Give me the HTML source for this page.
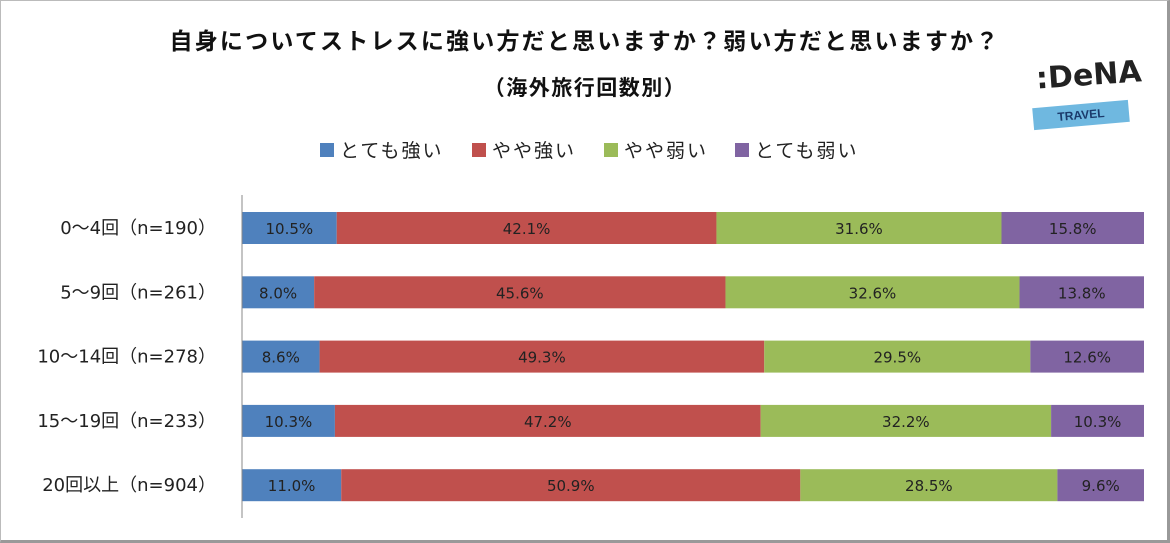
<!DOCTYPE html>
<html><head><meta charset="utf-8"><style>
body{margin:0;width:1170px;height:543px;overflow:hidden;background:#fff;font-family:"Liberation Sans","Noto Sans CJK JP",sans-serif;}
#frame{position:absolute;left:0;top:0;border:1px solid #bbb;border-right:3px solid #999;border-bottom:3px solid #999;box-sizing:border-box;width:1170px;height:543px}
.t{position:absolute;font-weight:bold;color:#111;white-space:nowrap;font-family:"Noto Sans CJK JP",sans-serif}
</style></head><body>
<div id="frame"></div>
<div class="t" style="left:0;width:1170px;text-align:center;top:22px;font-size:23px;letter-spacing:2.2px">自身についてストレスに強い方だと思いますか？弱い方だと思いますか？</div>
<div class="t" style="left:0;width:1170px;text-align:center;top:72px;font-size:21px;letter-spacing:1.5px">（海外旅行回数別）</div>
<div style="position:absolute;left:1030px;top:62px;width:110px;height:72px">
 <div style="position:absolute;left:6px;top:-4px;font-size:30px;font-weight:bold;color:#222;font-family:'DejaVu Sans',sans-serif;transform:rotate(-4deg)">:DeNA</div>
 <div style="position:absolute;left:3px;top:42px;width:96px;height:22px;background:#6fb8e0;transform:rotate(-5deg);text-align:center;font-size:12px;font-weight:bold;color:#1b3a6b;line-height:22px">TRAVEL</div>
</div>
<svg id="c" width="1170" height="543" style="position:absolute;left:0;top:0"></svg>
<script>
const categories=["0～4回（n=190）","5～9回（n=261）","10～14回（n=278）","15～19回（n=233）","20回以上（n=904）"];
const seriesNames=["とても強い","やや強い","やや弱い","とても弱い"];
const s1=[10.5,8.0,8.6,10.3,11.0];
const s2=[42.1,45.6,49.3,47.2,50.9];
const s3=[31.6,32.6,29.5,32.2,28.5];
const s4=[15.8,13.8,12.6,10.3,9.6];
const series=[s1,s2,s3,s4];
const colors=["#4f81bd","#c0504d","#9bbb59","#8064a2"];
const ns="http://www.w3.org/2000/svg";
const svg=document.getElementById('c');
const x0=242,pw=902,y0=212,step=64.3,bh=32;
const xs=v=>v/100*pw;
function mk(t,a,p){const e=document.createElementNS(ns,t);for(const k in a)e.setAttribute(k,a[k]);(p||svg).appendChild(e);return e;}
const lx=[320,472,604,735];
seriesNames.forEach((n,i)=>{
 const r=mk('rect',{x:lx[i],y:143,width:14,height:14,fill:colors[i]});
 
 
 const t=mk('text',{x:lx[i]+20,y:157,'font-size':19,'letter-spacing':2,fill:'#222','font-family':'Noto Sans CJK JP'});t.textContent=n;
 
 
});
categories.forEach((c,ci)=>{
 const y=y0+ci*step;
 const t=mk('text',{x:216,y:y+bh/2+6,'font-size':18,fill:'#222','text-anchor':'end','font-family':'DejaVu Sans, Noto Sans CJK JP'});t.textContent=c;
 
 
 let acc=0;
 series.forEach((s,si)=>{
  const v=s[ci];
  const r=mk('rect',{x:x0+xs(acc),y:y,width:xs(v),height:bh,fill:colors[si]});
  
  
  const l=mk('text',{x:x0+xs(acc+v/2),y:y+bh/2+6,'font-size':15,fill:'#222','text-anchor':'middle','font-family':'DejaVu Sans'});
  l.textContent=v.toFixed(1)+'%';
  
  
  acc+=v;
 });
});
const ax=mk('line',{x1:x0,y1:195,x2:x0,y2:518,stroke:'#888','stroke-width':1});


</script>
</body></html>
